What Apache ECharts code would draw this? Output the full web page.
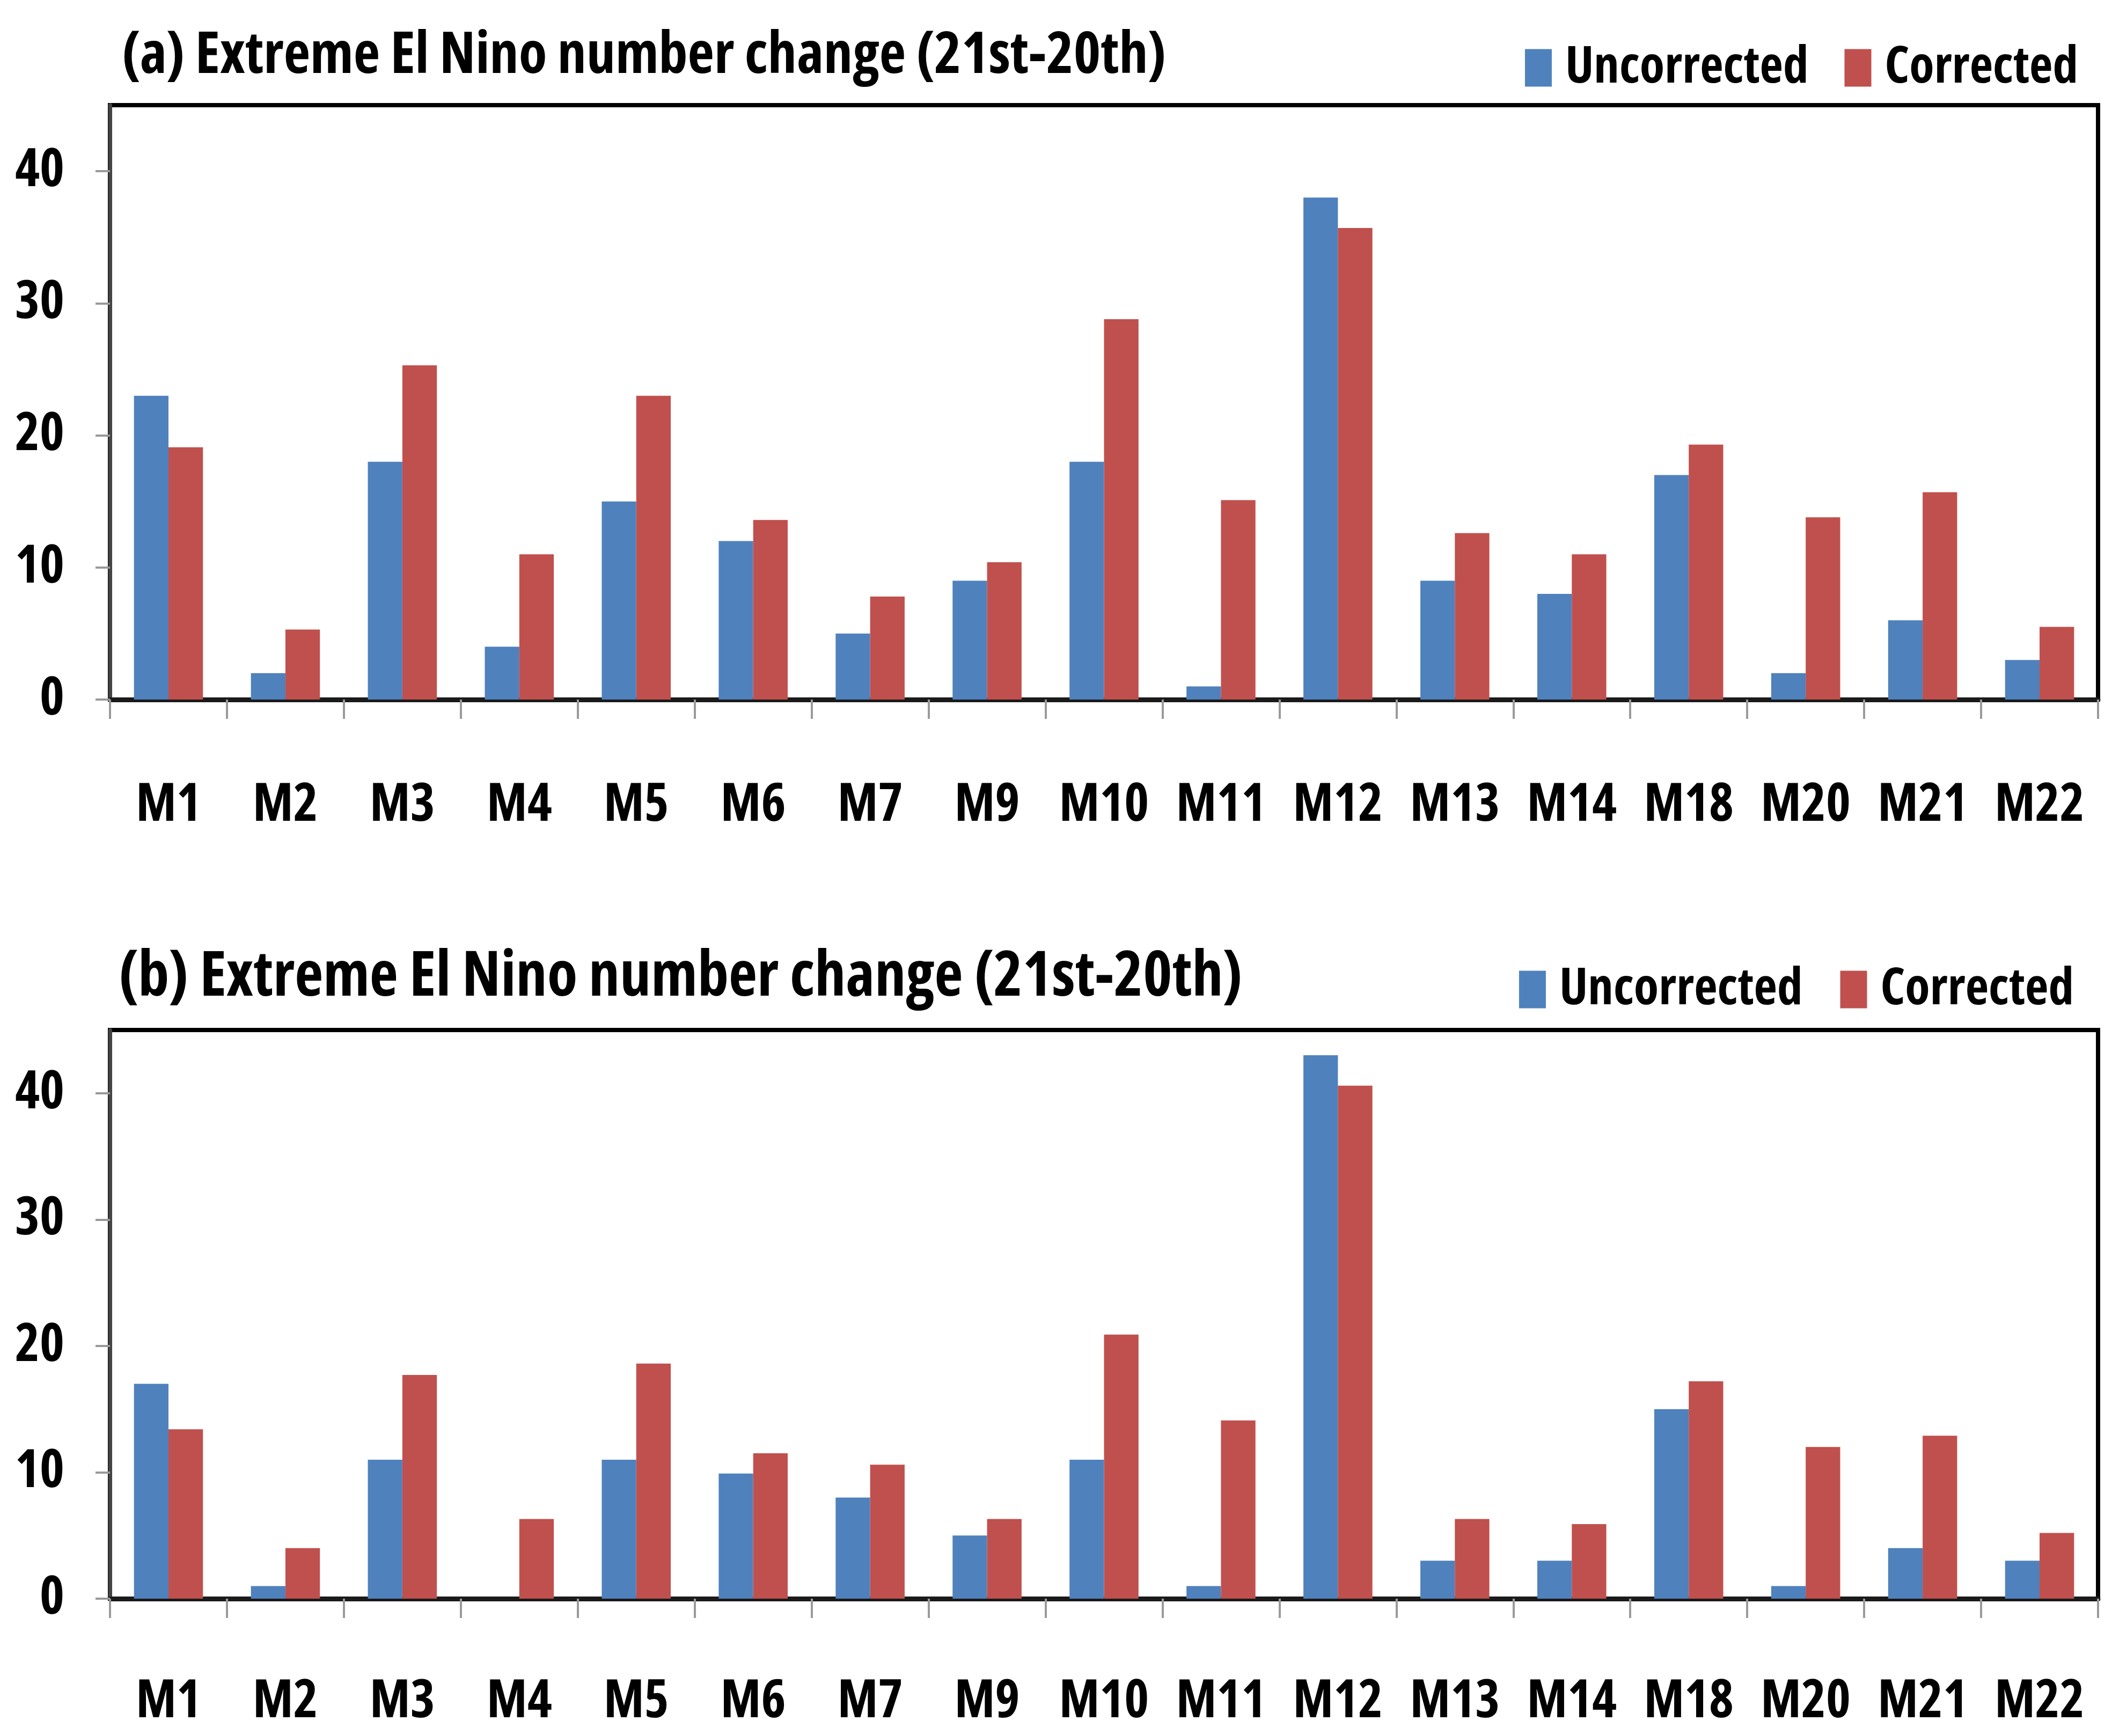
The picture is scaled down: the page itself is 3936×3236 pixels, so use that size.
<!DOCTYPE html>
<html>
<head>
<meta charset="utf-8">
<script src="https://cdn.jsdelivr.net/npm/echarts@6/dist/echarts.min.js"></script>
<style>
html,body{margin:0;padding:0;background:#fff;}
#chart{width:3936px;height:3236px;}
</style>
</head>
<body>
<div id="chart"></div>
<script>
const categories = ['M1','M2','M3','M4','M5','M6','M7','M9','M10','M11','M12','M13','M14','M18','M20','M21','M22'];
const yTicks = [0, 10, 20, 30, 40];
const titleA = '(a) Extreme El Nino number change (21st-20th)';
const titleB = '(b) Extreme El Nino number change (21st-20th)';
const seriesNames = ['Uncorrected', 'Corrected'];
const aUncorrected = [23, 2, 18, 4, 15, 12, 5, 9, 18, 1, 38, 9, 8, 17, 2, 6, 3];
const aCorrected   = [19.1, 5.3, 25.3, 11.0, 23.0, 13.6, 7.8, 10.4, 28.8, 15.1, 35.7, 12.6, 11.0, 19.3, 13.8, 15.7, 5.5];
const bUncorrected = [17, 1, 11, 0, 11, 9.9, 8, 5, 11, 1, 43, 3, 3, 15, 1, 4, 3];
const bCorrected   = [13.4, 4.0, 17.7, 6.3, 18.6, 11.5, 10.6, 6.3, 20.9, 14.1, 40.6, 6.3, 5.9, 17.2, 12.0, 12.9, 5.2];

const FONT = "'Open Sans', 'Liberation Sans', sans-serif";
const WEIGHT = 'bold condensed';
const BLUE = '#4F81BD', RED = '#C0504D';

function xAxis(gridIndex, margin) {
  return {
    type: 'category', gridIndex, data: categories,
    axisLine: { show: true, lineStyle: { color: '#1a1a1a', width: 9 } },
    axisTick: { show: true, alignWithLabel: false, length: 36, lineStyle: { color: '#9a9a9a', width: 4 } },
    axisLabel: { margin, color: '#000', fontFamily: FONT, fontWeight: WEIGHT, fontSize: 98, interval: 0 },
    splitLine: { show: false }
  };
}
function yAxis(gridIndex) {
  return {
    type: 'value', gridIndex, min: 0, max: 45, interval: 10,
    axisLine: { show: true, lineStyle: { color: '#444', width: 7 } },
    axisTick: { show: true, length: 27, customValues: yTicks, lineStyle: { color: '#999', width: 4 } },
    axisLabel: { margin: 85, customValues: yTicks, color: '#000', fontFamily: FONT, fontWeight: WEIGHT, fontSize: 98 },
    splitLine: { show: false }
  };
}
function legend(top, right, gap) {
  return {
    data: seriesNames, right, top, icon: 'rect', itemWidth: 50, itemHeight: 70, itemGap: gap,
    textStyle: { fontFamily: FONT, fontWeight: WEIGHT, fontSize: 95, color: '#000', padding: [0, 0, 0, 20] }
  };
}
function bar(name, data, color, idx) {
  return {
    type: 'bar', name, data, xAxisIndex: idx, yAxisIndex: idx,
    barGap: '0%', barCategoryGap: '41%',
    itemStyle: { color }
  };
}

const chart = echarts.init(document.getElementById('chart'), null, { renderer: 'canvas' });
chart.setOption({
  animation: false,
  backgroundColor: '#fff',
  title: [
    { text: titleA, left: 222, top: 46, textStyle: { fontFamily: FONT, fontWeight: WEIGHT, fontSize: 108, color: '#000', lineHeight: 108 } },
    { text: titleB, left: 216, top: 1760, textStyle: { fontFamily: FONT, fontWeight: WEIGHT, fontSize: 116, color: '#000', lineHeight: 116 } }
  ],
  legend: [legend(74, 58, 67), legend(1792, 66, 70)],
  grid: [
    { left: 205, right: 26, top: 196, height: 1108, show: true, borderColor: '#000', borderWidth: 8, backgroundColor: 'transparent' },
    { left: 205, right: 26, top: 1920, height: 1060, show: true, borderColor: '#000', borderWidth: 8, backgroundColor: 'transparent' }
  ],
  xAxis: [xAxis(0, 149), xAxis(1, 144)],
  yAxis: [yAxis(0), yAxis(1)],
  series: [
    bar(seriesNames[0], aUncorrected, BLUE, 0),
    bar(seriesNames[1], aCorrected, RED, 0),
    bar(seriesNames[0], bUncorrected, BLUE, 1),
    bar(seriesNames[1], bCorrected, RED, 1)
  ]
});
</script>
</body>
</html>
